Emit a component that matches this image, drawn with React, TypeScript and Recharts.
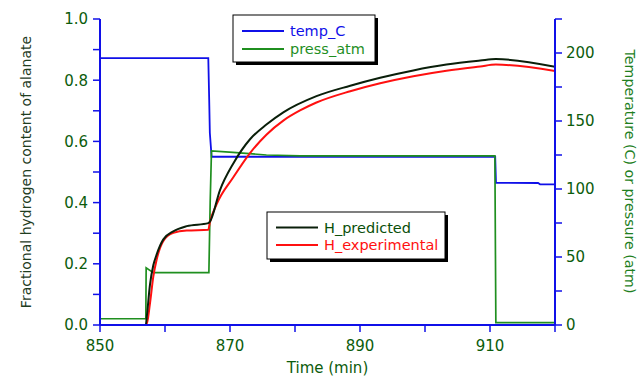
import React from 'react';
import { LineChart, Line, XAxis, YAxis, Customized } from 'recharts';

// temp_C (right axis)
const tempTime = [850, 866.66, 866.8, 866.9, 867.17, 910.8, 910.92, 917.4, 917.7, 920];
const tempValue = [196.3, 196.3, 165.4, 141.2, 123.7, 123.7, 104.6, 104.4, 103.5, 103.4];

// press_atm (right axis)
const pressTime = [850, 857.05, 857.1, 858.2, 866.75, 866.95, 867.15, 870.46, 875.6, 880.8, 890, 910.75, 910.9, 920];
const pressValue = [4.6, 4.6, 42.1, 38.5, 38.5, 90, 128, 127, 125, 124.4, 124.3, 124.3, 1.7, 1.7];

// H_predicted (left axis)
const predTime = [850, 857.05, 857.18, 857.69, 858.2, 858.71, 859.72, 861.28, 863.34, 866.66, 866.92, 868.46, 870.51, 873.08, 875.6, 878.2, 883.3, 888.5, 893.1, 898.2, 903.3, 908.5, 910.9, 920];
const predValue = [0, 0, 0.023, 0.132, 0.195, 0.23, 0.279, 0.306, 0.323, 0.333, 0.338, 0.441, 0.528, 0.607, 0.655, 0.695, 0.748, 0.782, 0.808, 0.832, 0.851, 0.864, 0.869, 0.844];

// H_experimental (left axis)
const expTime = [850, 857.15, 857.69, 858.2, 858.71, 859.72, 861.28, 863.34, 866.66, 866.9, 867.95, 870.51, 873.08, 875.6, 878.2, 880.77, 883.3, 888.5, 893.1, 898.2, 903.3, 908.5, 910.9, 920];
const expValue = [0, 0, 0.071, 0.158, 0.213, 0.274, 0.301, 0.309, 0.311, 0.335, 0.395, 0.483, 0.562, 0.622, 0.668, 0.701, 0.727, 0.764, 0.79, 0.813, 0.831, 0.845, 0.851, 0.83];

const xTicks = [850, 860, 870, 880, 890, 900, 910, 920];
const leftTicks = [0, 0.1, 0.2, 0.3, 0.4, 0.5, 0.6, 0.7, 0.8, 0.9, 1.0];
const rightTicks = [0, 25, 50, 75, 100, 125, 150, 175, 200, 225];

const zip = (t: number[], v: number[]) => t.map((x, i) => ({ x, y: v[i] }));
const tempData = zip(tempTime, tempValue);
const pressData = zip(pressTime, pressValue);
const predData = zip(predTime, predValue);
const expData = zip(expTime, expValue);

const BLUE = '#1010e8';
const GREEN = '#1f8f1f';
const DARK = '#0a1f0a';
const RED = '#ff1010';
const TICKTXT = '#0c5c0c';
const FONT = 'DejaVu Sans';

const Extras = () => (
  <g fontFamily={FONT}>
    <text transform="translate(31,172) rotate(-90)" textAnchor="middle" fontSize={14} fill="#1f3d1f">
      Fractional hydrogen content of alanate
    </text>
    <text transform="translate(625,171.5) rotate(90)" textAnchor="middle" fontSize={14.2} fill="#1f7f1f">
      Temperature (C) or pressure (atm)
    </text>
    <text x={327.5} y={373} textAnchor="middle" fontSize={15} fill={TICKTXT}>
      Time (min)
    </text>
    {/* legend 1 */}
    <rect x={236} y={18} width={142} height={47} fill="#000" />
    <rect x={233} y={15} width={142} height={47} fill="#fff" stroke="#000" strokeWidth={1} />
    <line x1={242} x2={284} y1={31} y2={31} stroke={BLUE} strokeWidth={2} />
    <line x1={242} x2={284} y1={49} y2={49} stroke={GREEN} strokeWidth={2} />
    <text x={290} y={36} fontSize={14.5} fill={BLUE}>temp_C</text>
    <text x={290} y={54} fontSize={14.5} fill={GREEN}>press_atm</text>
    {/* legend 2 */}
    <rect x={270} y={215} width={178} height={47} fill="#000" />
    <rect x={267} y={212} width={178} height={47} fill="#fff" stroke="#000" strokeWidth={1} />
    <line x1={276} x2={318} y1={227.5} y2={227.5} stroke={DARK} strokeWidth={2} />
    <line x1={276} x2={318} y1={245} y2={245} stroke={RED} strokeWidth={2} />
    <text x={324} y={232.5} fontSize={14.5} fill="#0a4f0a">H_predicted</text>
    <text x={324} y={250} fontSize={14.5} fill={RED}>H_experimental</text>
  </g>
);

export default function App() {
  return (
    <div style={{ position: 'absolute', left: 0, top: 0, background: '#fff' }}>
      <LineChart width={638} height={376} margin={{ top: 19, right: 0, bottom: 0, left: 0 }}>
        <XAxis
          type="number"
          dataKey="x"
          domain={[850, 920]}
          ticks={xTicks}
          interval={0}
          allowDataOverflow
          height={51}
          tickSize={7}
          tickMargin={8}
          axisLine={{ stroke: BLUE, strokeWidth: 2 }}
          tickLine={{ stroke: BLUE, strokeWidth: 1.5 }}
          tick={{ fill: TICKTXT, fontSize: 15, fontFamily: FONT }}
          tickFormatter={(v: number) => (v % 20 === 10 ? String(v) : '')}
        />
        <YAxis
          yAxisId="left"
          orientation="left"
          type="number"
          domain={[0, 1]}
          ticks={leftTicks}
          interval={0}
          width={100}
          tickSize={7}
          tickMargin={5}
          axisLine={{ stroke: BLUE, strokeWidth: 2 }}
          tickLine={{ stroke: BLUE, strokeWidth: 1.5 }}
          tick={{ fill: TICKTXT, fontSize: 15, fontFamily: FONT }}
          tickFormatter={(v: number) => (Math.round(v * 10) % 2 === 0 ? v.toFixed(1) : '')}
        />
        <YAxis
          yAxisId="right"
          orientation="right"
          type="number"
          domain={[0, 225]}
          ticks={rightTicks}
          interval={0}
          width={83}
          tickSize={7}
          tickMargin={4}
          axisLine={{ stroke: BLUE, strokeWidth: 2 }}
          tickLine={{ stroke: BLUE, strokeWidth: 1.5 }}
          tick={{ fill: TICKTXT, fontSize: 15, fontFamily: FONT }}
          tickFormatter={(v: number) => (v % 50 === 0 ? String(v) : '')}
        />
        <Line yAxisId="right" data={tempData} dataKey="y" type="linear" stroke={BLUE} strokeWidth={1.8} dot={false} activeDot={false} isAnimationActive={false} name="temp_C" />
        <Line yAxisId="right" data={pressData} dataKey="y" type="linear" stroke={GREEN} strokeWidth={1.7} dot={false} activeDot={false} isAnimationActive={false} name="press_atm" />
        <Line yAxisId="left" data={expData} dataKey="y" type="monotone" stroke={RED} strokeWidth={2} dot={false} activeDot={false} isAnimationActive={false} name="H_experimental" />
        <Line yAxisId="left" data={predData} dataKey="y" type="monotone" stroke={DARK} strokeWidth={2} dot={false} activeDot={false} isAnimationActive={false} name="H_predicted" />
        <Customized component={Extras} />
      </LineChart>
    </div>
  );
}
